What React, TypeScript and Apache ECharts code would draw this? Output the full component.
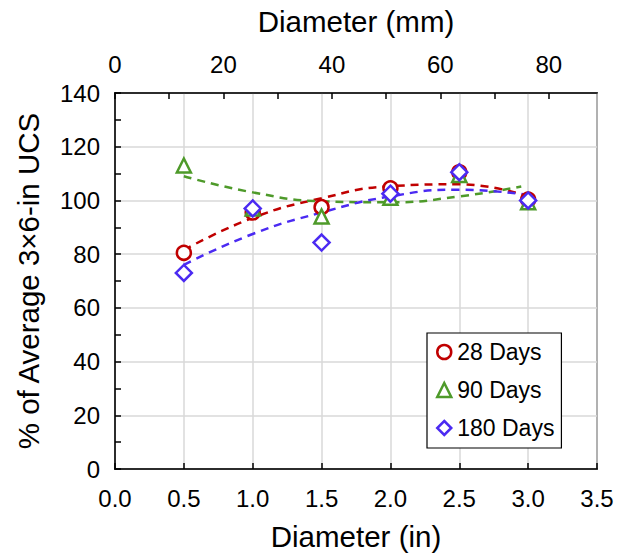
import React, { useEffect, useRef } from "react";
import * as echarts from "echarts";

const diameterIn = [0.5, 1.0, 1.5, 2.0, 2.5, 3.0];
const days28 = [80.5, 95.5, 97.5, 104.5, 110.5, 100.3];
const days90 = [113, 97, 94, 101, 109.5, 99.3];
const days180 = [73, 97, 84.3, 102.5, 110.5, 100];

const trendX28 = [0.5, 1.0, 1.5, 2.0, 2.5, 3.0];
const trend28 = [81.5, 93.5, 100.8, 105.3, 106, 101.5];
const trendX90 = [0.5, 1.0, 1.5, 2.0, 2.5, 2.95];
const trend90 = [109, 103, 99.7, 99.3, 101.5, 105.2];
const trendX180 = [0.5, 1.0, 1.5, 2.0, 2.5, 3.0];
const trend180 = [76, 87.5, 95.5, 101.5, 104, 102];

const seriesNames = ["28 Days", "90 Days", "180 Days"];
const colors = ["#C00000", "#4E9A2A", "#4B2AF2"];

const FONT = "'Liberation Sans', Arial, Helvetica, sans-serif";
const TITLE_SIZE = 29.5;

export default function App() {
  const ref = useRef<HTMLDivElement>(null);
  useEffect(() => {
    if (!ref.current) return;
    const chart = echarts.init(ref.current, undefined, { renderer: "svg" });
    const pairs = (xs: number[], ys: number[]) => xs.map((x, i) => [x, ys[i]]);
    const trend = (xs: number[], ys: number[], c: string) => ({
      type: "line",
      data: pairs(xs, ys),
      smooth: true,
      showSymbol: false,
      symbol: "none",
      silent: true,
      lineStyle: { color: c, width: 2.5, type: [8, 6] },
      z: 2,
    });
    const scatter = (name: string, ys: number[], c: string, symbol: string, size: number) => ({
      type: "scatter",
      name,
      data: pairs(diameterIn, ys),
      symbol,
      symbolSize: size,
      itemStyle: { color: "#ffffff", borderColor: c, borderWidth: 2.5, opacity: 1 },
      z: 3,
    });
    chart.setOption({
      animation: false,
      textStyle: { fontFamily: FONT, color: "#000" },
      grid: {
        left: 115,
        right: 21,
        top: 93,
        bottom: 85,
        show: true,
        borderColor: "#000",
        borderWidth: 1.5,
        backgroundColor: "transparent",
      },
      legend: {
        data: seriesNames,
        orient: "vertical",
        left: 427,
        top: 333,
        width: 137,
        padding: [6, 7, 7, 9],
        backgroundColor: "#ffffff",
        borderColor: "#000",
        borderWidth: 1.2,
        itemWidth: 14,
        itemHeight: 14,
        itemGap: 12,
        itemStyle: { borderWidth: 2.5 },
        textStyle: { fontFamily: FONT, fontSize: 23, color: "#000", lineHeight: 26, padding: [0, 0, 0, 1] },
      },
      xAxis: [
        {
          type: "value",
          position: "bottom",
          min: 0,
          max: 3.5,
          interval: 0.5,
          name: "Diameter (in)",
          nameLocation: "middle",
          nameGap: 52,
          nameTextStyle: { fontFamily: FONT, fontSize: TITLE_SIZE, color: "#000" },
          axisLine: { show: true, onZero: false, lineStyle: { color: "#000", width: 1.5 } },
          axisTick: { show: true, inside: true, length: 6, lineStyle: { color: "#000", width: 1.5 } },
          axisLabel: {
            margin: 17,
            fontFamily: FONT,
            fontSize: 24,
            color: "#000",
            formatter: (v: number) => v.toFixed(1),
          },
          splitLine: { show: true, lineStyle: { color: "#d9d9d9", width: 1.5 } },
        },
        {
          type: "value",
          position: "top",
          min: 0,
          max: 88.9,
          interval: 10,
          name: "Diameter (mm)",
          nameLocation: "middle",
          nameGap: 57,
          nameTextStyle: { fontFamily: FONT, fontSize: TITLE_SIZE, color: "#000" },
          axisLine: { show: true, onZero: false, lineStyle: { color: "#000", width: 1.5 } },
          axisTick: { show: true, inside: true, length: 6, lineStyle: { color: "#000", width: 1.5 } },
          axisLabel: {
            margin: 17,
            fontFamily: FONT,
            fontSize: 24,
            color: "#000",
            showMaxLabel: false,
            formatter: (v: number) => (Math.abs(v % 20) < 1e-6 ? String(v) : ""),
          },
          splitLine: { show: false },
        },
      ],
      yAxis: {
        type: "value",
        min: 0,
        max: 140,
        interval: 20,
        name: "% of Average 3×6-in UCS",
        nameLocation: "middle",
        nameGap: 72,
        nameTextStyle: { fontFamily: FONT, fontSize: TITLE_SIZE, color: "#000" },
        axisLine: { show: true, onZero: false, lineStyle: { color: "#000", width: 1.5 } },
        axisTick: { show: true, inside: true, length: 6, lineStyle: { color: "#000", width: 1.5 } },
        minorTick: { show: true, splitNumber: 2, length: 6, lineStyle: { color: "#000", width: 1.5 } },
        axisLabel: { margin: 15, fontFamily: FONT, fontSize: 24, color: "#000" },
        splitLine: { show: true, lineStyle: { color: "#d9d9d9", width: 1.5 } },
      },
      series: [
        trend(trendX28, trend28, colors[0]),
        trend(trendX90, trend90, colors[1]),
        trend(trendX180, trend180, colors[2]),
        scatter(seriesNames[0], days28, colors[0], "circle", 14),
        scatter(seriesNames[1], days90, colors[1], "triangle", 14),
        scatter(seriesNames[2], days180, colors[2], "diamond", 16),
      ],
    });
    return () => chart.dispose();
  }, []);
  return (
    <div
      ref={ref}
      style={{ position: "fixed", left: 0, top: 0, width: 618, height: 556, background: "#fff" }}
    />
  );
}
